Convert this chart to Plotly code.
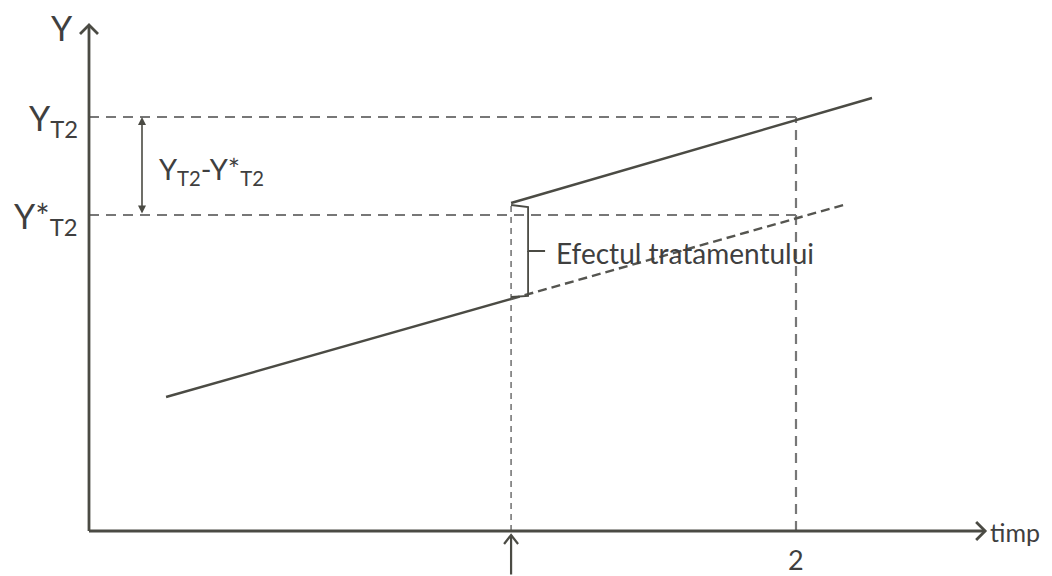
import plotly.graph_objects as go

# time points (axis units; 2 = period T2)
t_start = 0.218
t_treat = 1.194
t_T2 = 2.0
t_end = 2.215
t_cf_end = 2.144
t_axis_end = 2.535

# outcome values
y_lower = [134, 232]        # observed before treatment
y_upper = [328, 433]        # observed after treatment
y_cf = [232, 327]           # counterfactual (no treatment)
Y_T2 = 414
Y_star_T2 = 316
y_axis_end = 506

x_tick_labels = ["2"]
texts = {"x": "timp", "y": "Y", "effect": "Efectul tratamentului"}

INK = "#4b4b44"
DASH = "#777777"
TXT = "#3f3f3f"
FONT = "Lato"

# the page body has an 8px margin, so the figure is shifted by 8px;
# ranges are chosen so that the drawing lands where the reference has it
W, H = 1044, 568
x0, x1 = -81 / 353.5, 963 / 353.5
y0, y1 = -45, 523
px = (x1 - x0) / W   # x units per pixel
py = (y1 - y0) / H   # y units per pixel

fig = go.Figure()


def seg(xs, ys, color=INK, width=2.4, dash="solid"):
    fig.add_trace(go.Scatter(x=xs, y=ys, mode="lines", hoverinfo="skip",
                             line=dict(color=color, width=width, dash=dash),
                             showlegend=False))


# reference dashed lines
seg([0, t_T2], [Y_T2, Y_T2], DASH, 2.2, "10px,7px")
seg([0, t_T2], [Y_star_T2, Y_star_T2], DASH, 2.2, "10px,7px")
seg([t_T2, t_T2], [0, Y_T2], DASH, 2.2, "10px,7px")
seg([t_treat, t_treat], [0, y_upper[0]], DASH, 1.6, "6px,5px")

# main lines
seg([t_start, t_treat], y_lower)
seg([t_treat, t_end], y_upper)
seg([t_treat, t_cf_end], y_cf, "#555550", 2.4, "9px,5px")

# axes
seg([0, t_axis_end], [0, 0], INK, 2.8)
seg([0, 0], [0, y_axis_end], INK, 2.8)
a = 9
seg([t_axis_end - a * px, t_axis_end, t_axis_end - a * px],
    [a * py, 0, -a * py], INK, 2.8)
seg([-a * px, 0, a * px],
    [y_axis_end - a * py, y_axis_end, y_axis_end - a * py], INK, 2.8)

# brace for treatment effect
bx = t_treat + 17 * px
ymid = (y_cf[0] + y_upper[0]) / 2
seg([t_treat, bx, bx, bx + 17 * px], [y_upper[0] - 2 * py, y_upper[0] - 4 * py, ymid, ymid], INK, 1.8)
seg([t_treat, bx, bx], [y_cf[0] + 2 * py, y_cf[0] + 3 * py, ymid], INK, 1.8)

# double arrow between Y_T2 and Y*_T2
dx = 53 * px
fig.add_annotation(x=dx, y=Y_T2, ax=dx, ay=Y_star_T2, xref="x", yref="y",
                   axref="x", ayref="y", showarrow=True, arrowside="end+start",
                   arrowhead=2, arrowsize=1, arrowwidth=1.6, arrowcolor=INK, text="")

# treatment arrow below axis
fig.add_annotation(x=t_treat, y=-4 * py, ax=t_treat, ay=y0, xref="x", yref="y",
                   axref="x", ayref="y", showarrow=True, arrowhead=0,
                   arrowwidth=2.2, arrowcolor=INK, text="")
seg([t_treat - 7 * px, t_treat, t_treat + 7 * px],
    [-13 * py, -4 * py, -13 * py], INK, 2.2)


# labels
def label(x, y, text, size, xanchor="center"):
    fig.add_annotation(x=x, y=y, text=text, showarrow=False, xanchor=xanchor,
                       yanchor="middle", font=dict(family=FONT, size=size, color=TXT))


label(-27 * px, y_axis_end - 2 * py, texts["y"], 34)
label(-9 * px, Y_T2 - 3 * py, "Y<sub>T2</sub>", 34, "right")
label(-9 * px, Y_star_T2 - 3 * py, "Y*<sub>T2</sub>", 34, "right")
label(dx + 15 * px, (Y_T2 + Y_star_T2) / 2 - 4 * py,
      "Y<sub>T2</sub>-Y*<sub>T2</sub>", 29, "left")
label(bx + 26 * px, ymid - 2 * py, texts["effect"], 28, "left")
label(t_axis_end + 3 * px, -1 * py, texts["x"], 25, "left")
label(t_T2, -28 * py, x_tick_labels[0], 27)

fig.update_layout(
    width=W, height=H, margin=dict(l=0, r=0, t=0, b=0),
    paper_bgcolor="white", plot_bgcolor="white",
    xaxis=dict(range=[x0, x1], visible=False),
    yaxis=dict(range=[y0, y1], visible=False),
)
fig.write_html("out.html")
